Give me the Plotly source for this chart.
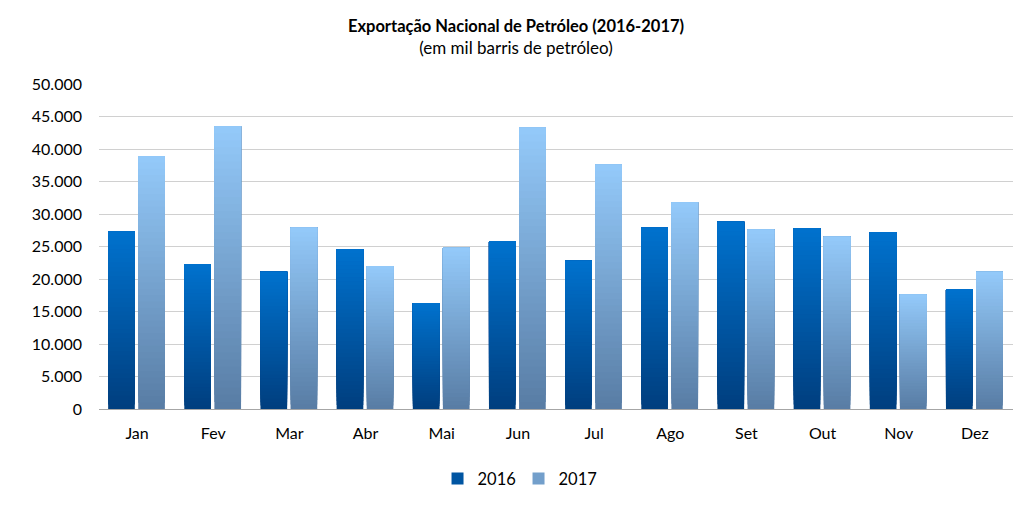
import plotly.graph_objects as go

months = ["Jan", "Fev", "Mar", "Abr", "Mai", "Jun", "Jul", "Ago", "Set", "Out", "Nov", "Dez"]
v2016 = [27300, 22300, 21100, 24600, 16300, 25800, 22800, 27900, 28800, 27800, 27200, 18400]
v2017 = [38900, 43500, 27900, 22000, 24800, 43300, 37600, 31800, 27600, 26500, 17600, 21100]
series_names = ["2016", "2017"]
tick_vals = [0, 5000, 10000, 15000, 20000, 25000, 30000, 35000, 40000, 45000, 50000]

# gradient colours (bottom -> top)
grad = {
    "2016": ((0, 62, 126), (0, 114, 206)),
    "2017": ((88, 124, 164), (148, 202, 250)),
}
offsets = {"2016": -0.38, "2017": 0.015}
bar_w = 0.35
N = 40

fig = go.Figure()

def lerp(c0, c1, t):
    return "rgb(%d,%d,%d)" % tuple(round(a + (b - a) * t) for a, b in zip(c0, c1))

for name, vals in zip(series_names, [v2016, v2017]):
    c0, c1 = grad[name]
    for i in range(N):
        t = (i + 0.5) / N
        fig.add_trace(go.Bar(
            x=months,
            y=[v * (N - i) / N for v in vals],
            base=[v * i / N for v in vals],
            offset=offsets[name],
            width=bar_w,
            marker=dict(color=lerp(c0, c1, t), line=dict(width=0)),
            showlegend=False,
            hoverinfo="skip",
        ))
    fig.add_trace(go.Bar(
        x=[None], y=[None], name=name,
        marker=dict(color=lerp(c0, c1, 0.45), line=dict(width=0)),
        showlegend=True,
    ))

fig.update_layout(
    width=1016, height=499,
    barmode="overlay",
    separators=",.",
    paper_bgcolor="white", plot_bgcolor="white",
    margin=dict(l=91, r=11, t=76, b=98, autoexpand=False),
    font=dict(family="Lato, Open Sans, sans-serif", size=16, color="#000000"),
    title=dict(
        text="<b>Exportação Nacional de Petróleo (2016-2017)</b><br><span style='font-size:17px'>(em mil barris de petróleo)</span>",
        x=0.5, xanchor="center", y=0.951, yanchor="top",
        font=dict(size=16.5, color="#000000"),
    ),
    legend=dict(
        orientation="h", x=0.459, xanchor="center", y=-0.161, yanchor="top",
        font=dict(size=16.5), itemsizing="constant", traceorder="normal",
        entrywidth=36, entrywidthmode="pixels",
    ),
    xaxis=dict(
        showline=True, linecolor="#A6A6A6", linewidth=1,
        ticks="", showgrid=False, tickfont=dict(size=16),
        ticklabelstandoff=10,
    ),
    yaxis=dict(
        range=[0, 50000], tickvals=tick_vals, tickformat=",d",
        showgrid=True, gridcolor="#D0D0D0", gridwidth=1,
        zeroline=False, showline=False, ticks="", tickfont=dict(size=16),
        ticklabelstandoff=16,
    ),
)

fig.write_html("out.html")
